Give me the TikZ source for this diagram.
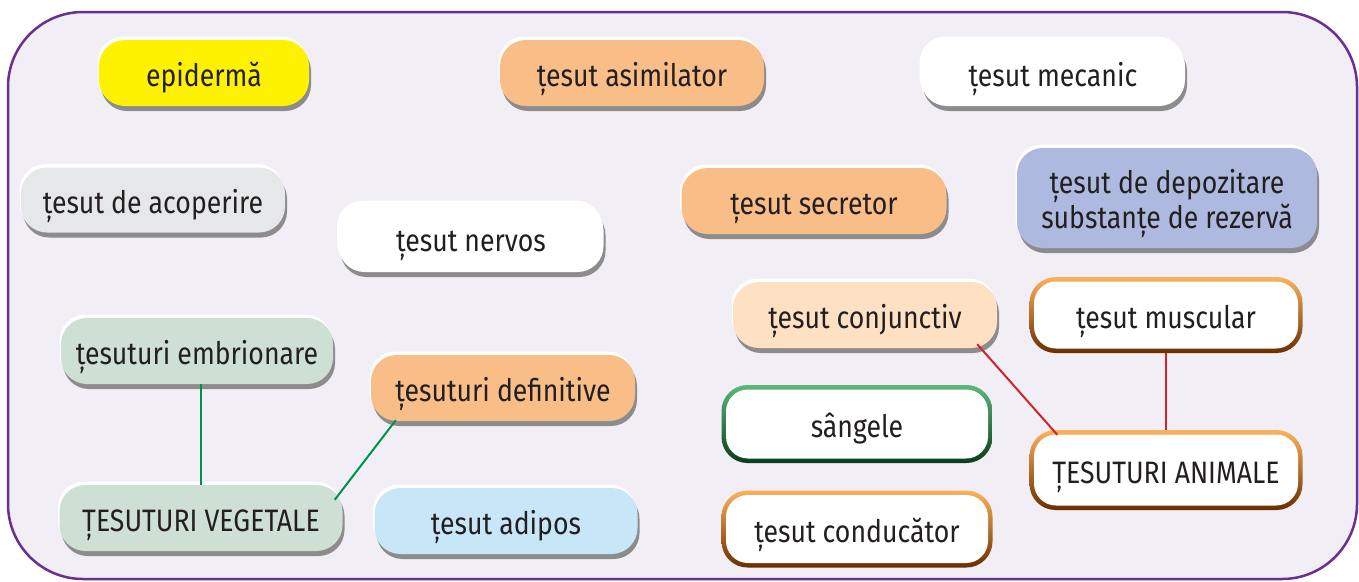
\documentclass[tikz,border=0pt]{standalone}
\usepackage{fontspec}
\setmainfont{Fira Sans}[FakeStretch=0.86]
\usetikzlibrary{shadows,calc}
\definecolor{framebg}{HTML}{F1EEF6}
\definecolor{framec}{HTML}{6B2E92}
\definecolor{txt}{HTML}{231F20}
\definecolor{cyellow}{HTML}{FFF200}
\definecolor{corange}{HTML}{F9BD87}
\definecolor{cgrey}{HTML}{E6E7E8}
\definecolor{cblue}{HTML}{ADB9DE}
\definecolor{cpeach}{HTML}{FDE1C2}
\definecolor{cgreen}{HTML}{CDE0D3}
\definecolor{clblue}{HTML}{C7E7F8}
\definecolor{shgray}{HTML}{8C8C8C}
\definecolor{lgreen}{HTML}{00924A}
\definecolor{lred}{HTML}{D2232A}
\definecolor{oA}{HTML}{FBB35A}
\definecolor{oB}{HTML}{F0A040}
\definecolor{oD}{HTML}{6A2E00}
\definecolor{gA}{HTML}{5CB87A}
\definecolor{gB}{HTML}{2A8548}
\definecolor{gD}{HTML}{0A3D1A}
\newcommand\boxfont{\fontsize{31}{35}\selectfont}
\tikzset{
  pill/.style={rounded corners=26, minimum height=66, inner sep=0pt,
    text=txt, font=\boxfont, align=center, text height=29pt, text depth=2pt,
    general shadow={fill=shgray, shadow xshift=2pt, shadow yshift=-5pt},
    general shadow={fill=white, shadow xshift=-1.5pt, shadow yshift=3.5pt}},
  plainpill/.style={rounded corners=26, inner sep=0pt,
    general shadow={fill=shgray, shadow xshift=2pt, shadow yshift=-5pt},
    general shadow={fill=white, shadow xshift=-1.5pt, shadow yshift=3.5pt}},
  textonly/.style={inner sep=0pt, text=txt, font=\boxfont, align=center},
  rimbox/.style={rounded corners=26, inner sep=0pt},
  innerbox/.style={rounded corners=22, inner sep=0pt, fill=white, text=txt,
    font=\boxfont, text height=29pt, text depth=2pt},
  gline/.style={draw=lgreen, line width=2pt},
  rline/.style={draw=lred, line width=2pt}
}
\newcommand\orbox[6]{%
  \node[rimbox, top color=oA, middle color=oB, bottom color=oD,
    minimum width=#4, minimum height=#5] (#1) at (#2,#3) {};
  \node[innerbox, minimum width=#4-9, minimum height=#5-9] at (#1) {#6};}
\newcommand\grbox[6]{%
  \node[rimbox, top color=gA, middle color=gB, bottom color=gD,
    minimum width=#4, minimum height=#5] (#1) at (#2,#3) {};
  \node[innerbox, minimum width=#4-9, minimum height=#5-9] at (#1) {#6};}
\begin{document}
\begin{tikzpicture}[x=1pt,y=-1pt]
\useasboundingbox (0,0) rectangle (1359,581);
\draw[line width=2.5pt, draw=framec, fill=framebg, rounded corners=75] (8,12) rectangle (1357,579);

\node[pill, fill=cyellow, minimum width=210] (epi) at (204,73) {epidermă};
\node[pill, fill=corange, minimum width=264] (asim) at (632,73) {țesut asimilator};
\node[pill, fill=white, minimum width=264] (mec) at (1053,73) {țesut mecanic};
\node[pill, fill=cgrey, minimum width=264, minimum height=65] (acop) at (153,200) {țesut de acoperire};
\node[pill, fill=white, minimum width=265, minimum height=68] (nerv) at (471,238) {țesut nervos};
\node[pill, fill=corange, minimum width=265] (secr) at (814,201) {țesut secretor};
\node[plainpill, fill=cblue, minimum width=300, minimum height=100] (depo) at (1167,198) {};
\node[textonly] at ([yshift=-5pt]depo.center) {țesut de depozitare\\substanțe de rezervă};
\node[pill, fill=cpeach, minimum width=264] (conj) at (865,315) {țesut conjunctiv};
\node[pill, fill=cgreen, minimum width=272] (embr) at (197,351) {țesuturi embrionare};
\node[pill, fill=corange, minimum width=264] (defi) at (503,388) {țesuturi definitive};
\node[pill, fill=cgreen, minimum width=283] (veg) at (201,518) {ȚESUTURI VEGETALE};
\node[pill, fill=clblue, minimum width=263] (adip) at (506,521) {țesut adipos};

\orbox{musc}{1166}{315}{273}{76}{țesut muscular}
\orbox{anim}{1166}{470}{273}{80}{ȚESUTURI ANIMALE}
\grbox{sang}{857}{424}{271}{78}{sângele}
\orbox{cond}{857}{529}{271}{77}{țesut conducător}

\draw[gline] (embr.south -| veg.north) -- (veg.north);
\draw[gline] ($(defi.south west)+(25,-1)$) -- ($(veg.north east)+(-8,15)$);
\draw[rline] ($(conj.south east)+(-20,-4)$) -- ($(anim.north west)+(28,5)$);
\draw[rline] (musc.south) -- (musc.south |- anim.north);
\end{tikzpicture}
\end{document}
